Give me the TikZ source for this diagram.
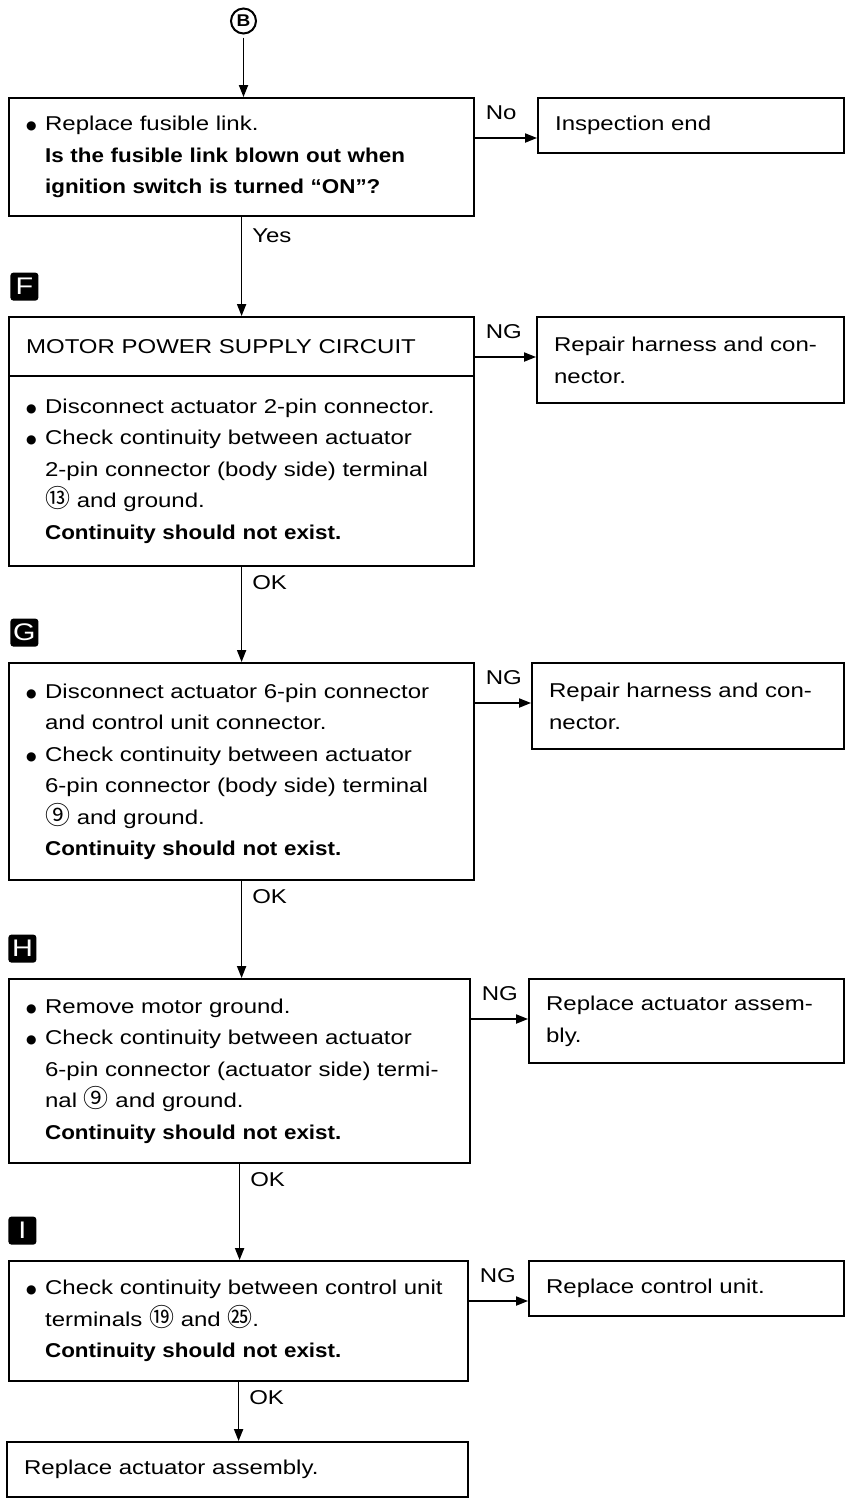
\documentclass[tikz,border=0pt]{standalone}
\usepackage{fontspec}
\setmainfont{Liberation Sans}[UprightFeatures={FakeStretch=1.2},BoldFeatures={FakeStretch=1.12}]
\newfontfamily\cjkfont{Noto Sans CJK SC}
\newfontfamily\symfont{DejaVu Sans}
\usetikzlibrary{positioning,arrows.meta}

\newcommand\bul{\makebox[9.5pt][l]{\raisebox{0.4pt}{\symfont\fontsize{6}{6}\selectfont ●}}}
\newcommand\ind{\hspace*{9.5pt}}
\newcommand\cnum[1]{{\cjkfont\fontsize{12.5}{12.5}\selectfont #1}}

\begin{document}
\begin{tikzpicture}[x=0.5pt,y=-0.5pt,
  box/.style 2 args={draw,line width=1.1pt,anchor=north west,align=left,inner xsep=8.5pt,inner ysep=0pt,
    text width=#1,minimum height=#2,font=\fontsize{10}{15.75}\selectfont},
  flow/.style={line width=0.7pt,-{Triangle[length=6pt,width=4.6pt]}},
  sidelbl/.style={anchor=south west,inner sep=0pt,xshift=5pt,yshift=9pt},
  downlbl/.style={anchor=north west,inner sep=0pt,xshift=5pt,yshift=-4pt},
  tag/.style={fill=black,text=white,rounded corners=1.5pt,minimum size=14pt,inner sep=0pt,font=\fontsize{12}{12}\selectfont},
  mark8/.style={draw,circle,line width=1pt,minimum size=12.5pt,inner sep=0pt,font=\bfseries\fontsize{8.5}{8.5}\selectfont}]
\useasboundingbox (0,0) rectangle (850,1501);

% start
\node[mark8] (b8) at (243.5,21) {B};

% fusible link
\node[box={215.5pt}{59pt}] (q1) at (8,97) {\bul Replace fusible link.\\
  \ind\textbf{Is the fusible link blown out when}\\
  \ind\textbf{ignition switch is turned “ON”?}};
\node[box={136pt}{27.5pt}] (end1) at (537,97) {Inspection end};

% F
\node[box={215.5pt}{29.5pt}] (qFh) at (8,316) {MOTOR POWER SUPPLY CIRCUIT};
\node[box={215.5pt}{95pt},below=-1.1pt of qFh] (qFb) {\bul Disconnect actuator 2-pin connector.\\
  \bul Check continuity between actuator\\
  \ind 2-pin connector (body side) terminal\\
  \ind\cnum{⑬}\ and ground.\\
  \ind\textbf{Continuity should not exist.}};
\node[box={136.5pt}{43pt}] (rF) at (536,316) {Repair harness and con-\\nector.};
\node[tag,above right=7.5pt and 1pt of qFh.north west] (tF) {F};

% G
\node[box={215.5pt}{108.5pt}] (qG) at (8,662) {\bul Disconnect actuator 6-pin connector\\
  \ind and control unit connector.\\
  \bul Check continuity between actuator\\
  \ind 6-pin connector (body side) terminal\\
  \ind\cnum{⑨}\ and ground.\\
  \ind\textbf{Continuity should not exist.}};
\node[box={139pt}{43pt}] (rG) at (531,662) {Repair harness and con-\\nector.};
\node[tag,above right=7.5pt and 1pt of qG.north west] (tG) {G};

% H
\node[box={213.5pt}{92pt}] (qH) at (8,978) {\bul Remove motor ground.\\
  \bul Check continuity between actuator\\
  \ind 6-pin connector (actuator side) termi-\\
  \ind nal \cnum{⑨}\ and ground.\\
  \ind\textbf{Continuity should not exist.}};
\node[box={140.5pt}{42pt}] (rH) at (528,978) {Replace actuator assem-\\bly.};
\node[tag,above right=7.5pt and 0pt of qH.north west] (tH) {H};

% I
\node[box={212.5pt}{60pt}] (qI) at (8,1260) {\bul Check continuity between control unit\\
  \ind terminals \cnum{⑲}\ and \cnum{㉕}.\\
  \ind\textbf{Continuity should not exist.}};
\node[box={140.5pt}{27.5pt}] (rI) at (528,1260) {Replace control unit.};
\node[tag,above right=7.5pt and 0pt of qI.north west] (tI) {I};

\node[box={213.5pt}{27.5pt}] (fin) at (6,1441) {Replace actuator assembly.};

% side exits
\coordinate (r1) at ([yshift=-20.5pt]q1.north east);
\coordinate (rFy) at ([yshift=-20.5pt]qFh.north east);
\coordinate (rGy) at ([yshift=-20.5pt]qG.north east);
\coordinate (rHy) at ([yshift=-20.5pt]qH.north east);
\coordinate (rIy) at ([yshift=-20.5pt]qI.north east);
\draw[flow] (r1) -- (r1 -| end1.west) node[sidelbl,pos=0] {No};
\draw[flow] (rFy) -- (rFy -| rF.west) node[sidelbl,pos=0] {NG};
\draw[flow] (rGy) -- (rGy -| rG.west) node[sidelbl,pos=0] {NG};
\draw[flow] (rHy) -- (rHy -| rH.west) node[sidelbl,pos=0] {NG};
\draw[flow] (rIy) -- (rIy -| rI.west) node[sidelbl,pos=0] {NG};

% main line
\draw[flow,shorten <=1.5pt] (b8.south) -- (b8.south |- q1.north);
\draw[flow] (q1.south) -- (q1.south |- qFh.north) node[downlbl,pos=0,yshift=-1.5pt] {Yes};
\draw[flow] (qFb.south) -- (qFb.south |- qG.north) node[downlbl,pos=0] {OK};
\draw[flow] (qG.south) -- (qG.south |- qH.north) node[downlbl,pos=0] {OK};
\draw[flow] (qH.south) -- (qH.south |- qI.north) node[downlbl,pos=0] {OK};
\draw[flow] (qI.south) -- (qI.south |- fin.north) node[downlbl,pos=0] {OK};
\end{tikzpicture}
\end{document}
